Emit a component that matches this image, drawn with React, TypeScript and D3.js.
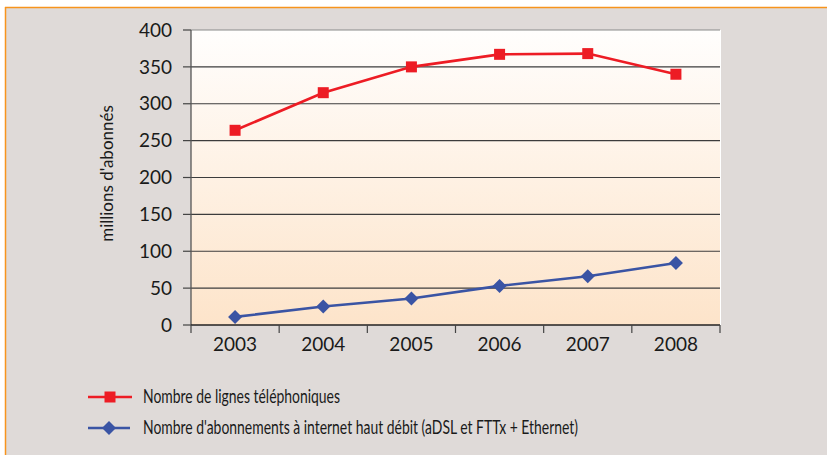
import React from "react";
import * as d3 from "d3";

const years = ["2003", "2004", "2005", "2006", "2007", "2008"];
const phoneLines = [264, 315, 350, 367, 368, 340];
const broadband = [11, 25, 36, 53, 66, 84];
const yTicks = [0, 50, 100, 150, 200, 250, 300, 350, 400];
const seriesNames = [
  "Nombre de lignes téléphoniques",
  "Nombre d'abonnements à internet haut débit (aDSL et FTTx + Ethernet)",
];
const yTitle = "millions d'abonnés";

const W = 827;
const H = 455;
const FONT = "Lato, 'Open Sans', sans-serif";

export default function App() {
  const left = 191, right = 720, top = 30, bottom = 325;
  const x = d3.scaleBand().domain(years).range([left, right]).padding(0);
  const y = d3.scaleLinear().domain([0, 400]).range([bottom, top]);
  const cx = (d: string) => (x(d) as number) + x.bandwidth() / 2;
  const line = d3
    .line<number>()
    .x((_, i) => cx(years[i]))
    .y((v) => y(v));

  const red = "#ed1c24";
  const blue = "#3a54a4";
  const diamond = (px: number, py: number, r: number) =>
    `M${px},${py - r}L${px + r},${py}L${px},${py + r}L${px - r},${py}Z`;

  return (
    <svg
      width={W}
      height={H}
      style={{ position: "absolute", left: 0, top: 0, display: "block" }}
    >
      <defs>
        <linearGradient id="pg" x1="0" y1="0" x2="0" y2="1">
          <stop offset="0" stopColor="#fffefd" />
          <stop offset="1" stopColor="#fde4ca" />
        </linearGradient>
      </defs>
      <rect x={0} y={0} width={W} height={H} fill="#ffffff" />
      <rect x={5} y={7} width={W - 5} height={H - 7} fill="#dfdad8" />
      <line x1={5} y1={7.5} x2={W} y2={7.5} stroke="#f7941d" strokeWidth={1.5} />
      <line x1={5.5} y1={7} x2={5.5} y2={H} stroke="#f7941d" strokeWidth={1.5} />

      {/* plot area */}
      <rect x={left} y={top} width={right - left} height={bottom - top} fill="url(#pg)" />
      <line x1={right + 0.5} y1={top} x2={right + 0.5} y2={bottom} stroke="#ffffff" strokeWidth={1} />

      {yTicks.map((t) => (
        <g key={t}>
          {t > 0 && (
            <line x1={left} x2={right} y1={y(t)} y2={y(t)} stroke={t === 400 ? "#8a8a8a" : "#3c3c3c"} strokeWidth={1.2} />
          )}
          <line x1={left - 8} x2={left} y1={y(t)} y2={y(t)} stroke="#444" strokeWidth={1.2} />
          <text
            x={172}
            y={y(t)}
            dy="0.35em"
            textAnchor="end"
            fontFamily={FONT}
            fontSize={19}
            fill="#1a1a1a"
          >
            {t}
          </text>
        </g>
      ))}
      <line x1={left} x2={left} y1={top} y2={bottom} stroke="#555" strokeWidth={1.3} />
      <line x1={left} x2={right} y1={bottom} y2={bottom} stroke="#222" strokeWidth={1.3} />
      {years.map((yr) => (
        <line key={"t" + yr} x1={x(yr)} x2={x(yr)} y1={bottom} y2={bottom + 8} stroke="#444" strokeWidth={1.2} />
      ))}
      <line x1={right} x2={right} y1={bottom} y2={bottom + 8} stroke="#444" strokeWidth={1.2} />
      {years.map((yr) => (
        <text
          key={"l" + yr}
          x={cx(yr)}
          y={351}
          textAnchor="middle"
          fontFamily={FONT}
          fontSize={19}
          fill="#1a1a1a"
        >
          {yr}
        </text>
      ))}
      <text
        transform={`translate(113,${(top + bottom) / 2 - 4}) rotate(-90)`}
        textAnchor="middle"
        fontFamily={FONT}
        fontSize={17}
        fill="#1a1a1a"
      >
        {yTitle}
      </text>

      {/* series */}
      <path d={line(phoneLines) || ""} fill="none" stroke={red} strokeWidth={2.6} />
      {phoneLines.map((v, i) => (
        <rect key={"r" + i} x={cx(years[i]) - 5.5} y={y(v) - 5.5} width={11} height={11} fill={red} />
      ))}
      <path d={line(broadband) || ""} fill="none" stroke={blue} strokeWidth={2.6} />
      {broadband.map((v, i) => (
        <path key={"b" + i} d={diamond(cx(years[i]), y(v), 7)} fill={blue} />
      ))}

      {/* legend */}
      <line x1={88} x2={132} y1={397} y2={397} stroke={red} strokeWidth={2.6} />
      <rect x={104.5} y={391.5} width={11} height={11} fill={red} />
      <text
        x={143}
        y={403}
        fontFamily={FONT}
        fontSize={18.5}
        fill="#1a1a1a"
        textLength={197}
        lengthAdjust="spacingAndGlyphs"
      >
        {seriesNames[0]}
      </text>
      <line x1={88} x2={130} y1={428} y2={428} stroke={blue} strokeWidth={2.6} />
      <path d={diamond(109, 428, 7)} fill={blue} />
      <text
        x={143}
        y={434}
        fontFamily={FONT}
        fontSize={18.5}
        fill="#1a1a1a"
        textLength={435}
        lengthAdjust="spacingAndGlyphs"
      >
        {seriesNames[1]}
      </text>
    </svg>
  );
}
